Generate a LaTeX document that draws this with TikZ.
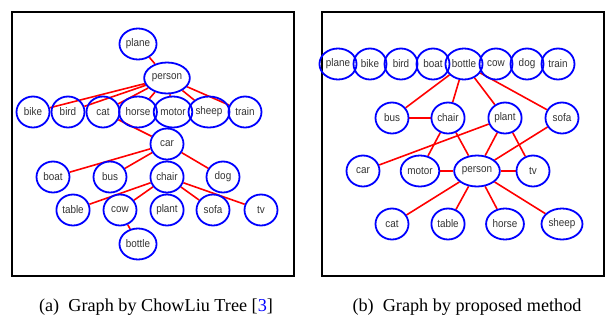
\documentclass[tikz,border=0pt]{standalone}
\usepackage{fontspec}
\setmainfont{Liberation Serif}
\newfontfamily\nodefont[FakeStretch=0.9]{Liberation Sans}
\usetikzlibrary{positioning, shapes.geometric, calc, backgrounds}

\begin{document}
\begin{tikzpicture}[x=1pt, y=-1pt,
    cls/.style={ellipse, draw=blue, line width=1.8pt, inner xsep=1pt, inner ysep=0pt, minimum width=33pt, minimum height=31pt,
        font=\nodefont\fontsize{11}{13}\selectfont, text=black!80},
    link/.style={red, line width=1.6pt},
    panel/.style={draw, line width=1.2pt},
    caption/.style={anchor=base, font=\fontsize{18.2}{22}\selectfont}]
    \useasboundingbox (0,0) rectangle (608,322);

    %Frames
    \draw[panel] (12,12) rectangle (294,276);
    \draw[panel] (322,12) rectangle (604,276);

    %Nodes (ChowLiu tree)
    \node[cls] (plane) at (138,44) {plane};
    \node[cls] (person) at (167,78) {person};
    \node[cls] (bike) at (33,112) {bike};
    \node[cls] (bird) at (68,112) {bird};
    \node[cls] (cat) at (103,112) {cat};
    \node[cls] (horse) at (138,112) {horse};
    \node[cls] (motor) at (173,112) {motor};
    \node[cls] (sheep) at (209,112) {sheep};
    \node[cls] (train) at (245,112) {train};
    \node[cls] (car) at (167,144) {car};
    \node[cls] (boat) at (53,177) {boat};
    \node[cls] (bus) at (110,177) {bus};
    \node[cls] (chair) at (167,177) {chair};
    \node[cls] (dog) at (223,177) {dog};
    \node[cls] (table) at (73,210) {table};
    \node[cls] (cow) at (120,210) {cow};
    \node[cls] (plant) at (167,210) {plant};
    \node[cls] (sofa) at (213,210) {sofa};
    \node[cls] (tv) at (261,210) {tv};
    \node[cls] (bottle) at (138,244) {bottle};

    %Nodes (proposed graph)
    \node[cls] (plane2) at (338,64) {plane};
    \node[cls] (bike2) at (370,64) {bike};
    \node[cls] (bird2) at (401,64) {bird};
    \node[cls] (boat2) at (433,64) {boat};
    \node[cls] (bottle2) at (464,64) {bottle};
    \node[cls] (cow2) at (496,64) {cow};
    \node[cls] (dog2) at (527,64) {dog};
    \node[cls] (train2) at (558,64) {train};
    \node[cls] (bus2) at (392,118) {bus};
    \node[cls] (chair2) at (448,118) {chair};
    \node[cls] (plant2) at (505,118) {plant};
    \node[cls] (sofa2) at (562,118) {sofa};
    \node[cls] (car2) at (363,171) {car};
    \node[cls] (motor2) at (420,171) {motor};
    \node[cls] (person2) at (477,171) {person};
    \node[cls] (tv2) at (533,171) {tv};
    \node[cls] (cat2) at (392,224) {cat};
    \node[cls] (table2) at (448,224) {table};
    \node[cls] (horse2) at (505,224) {horse};
    \node[cls] (sheep2) at (562,224) {sheep};

    %Edges
    \begin{pgfonlayer}{background}
    \draw[link] (plane) -- (person);
    \draw[link] (person) -- (bike) (person) -- (bird) (person) -- (cat) (person) -- (horse);
    \draw[link] (person) -- (motor) (person) -- (sheep) (person) -- (train);
    \draw[link] (cat) -- (car);
    \draw[link] (car) -- (boat) (car) -- (bus) (car) -- (chair) (car) -- (dog);
    \draw[link] (chair) -- (table) (chair) -- (cow) (chair) -- (plant) (chair) -- (sofa) (chair) -- (tv);
    \draw[link] (cow) -- (bottle);

    \draw[link] (bottle2) -- (bus2) (bottle2) -- (chair2) (bottle2) -- (plant2) (bottle2) -- (sofa2);
    \draw[link] (bus2) -- (chair2);
    \draw[link] (chair2) -- (motor2) (chair2) -- (person2);
    \draw[link] (plant2) -- (car2) (plant2) -- (person2) (plant2) -- (tv2);
    \draw[link] (sofa2) -- (person2);
    \draw[link] (motor2) -- (person2) (person2) -- (tv2);
    \draw[link] (person2) -- (cat2) (person2) -- (table2) (person2) -- (horse2) (person2) -- (sheep2);
    \end{pgfonlayer}

    %Captions
    \node[caption] (capa) at (156,311) {(a)\hspace{0.5em}Graph by ChowLiu Tree [\textcolor{blue}{3}]};
    \node[caption] (capb) at (467,311) {(b)\hspace{0.5em}Graph by proposed method};
\end{tikzpicture}
\end{document}
